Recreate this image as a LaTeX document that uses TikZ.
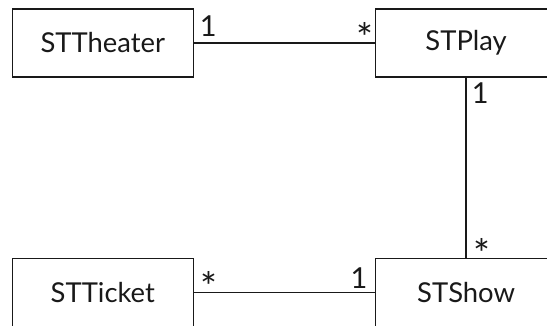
\documentclass[tikz,border=0pt]{standalone}
\usepackage{fontspec}
\setmainfont{Lato}
\usetikzlibrary{calc}
\begin{document}
\begin{tikzpicture}[x=1bp,y=-1bp,
  every node/.style={text=black!90},
  box/.style={draw=black!90, line width=1.5bp, minimum width=181bp, minimum height=68bp, inner sep=0pt, font=\fontsize{27.5}{32}\selectfont},
  one/.style={inner sep=0pt, anchor=north, font=\fontsize{29}{34}\selectfont},
  star/.style={inner sep=0pt, anchor=north, font=\fontsize{40}{44}\selectfont},
  conn/.style={draw=black!90, line width=1.5bp}]
\useasboundingbox (0,0) rectangle (547,325);
\node[box] (theater) at (102.8,43) {STTheater};
\node[box] (play) at (466.1,43) {STPlay};
\node[box] (ticket) at (102.8,292.7) {STTicket};
\node[box] (show) at (466.1,292.7) {STShow};
\draw[conn] (theater.east) -- (play.west);
\draw[conn] (play.south) -- (show.north);
\draw[conn] (ticket.east) -- (show.west);
\node[one] (m1) at ($(theater.east)+(14.2,-27)$) {1};
\node[star] (m2) at ($(play.west)+(-10.3,-20.3)$) {*};
\node[one] (m3) at ($(play.south)+(14.2,4.7)$) {1};
\node[star] (m4) at ($(show.north)+(15.4,-20)$) {*};
\node[star] (m5) at ($(ticket.east)+(15,-21)$) {*};
\node[one] (m6) at ($(show.west)+(-15.9,-25)$) {1};
\end{tikzpicture}
\end{document}
